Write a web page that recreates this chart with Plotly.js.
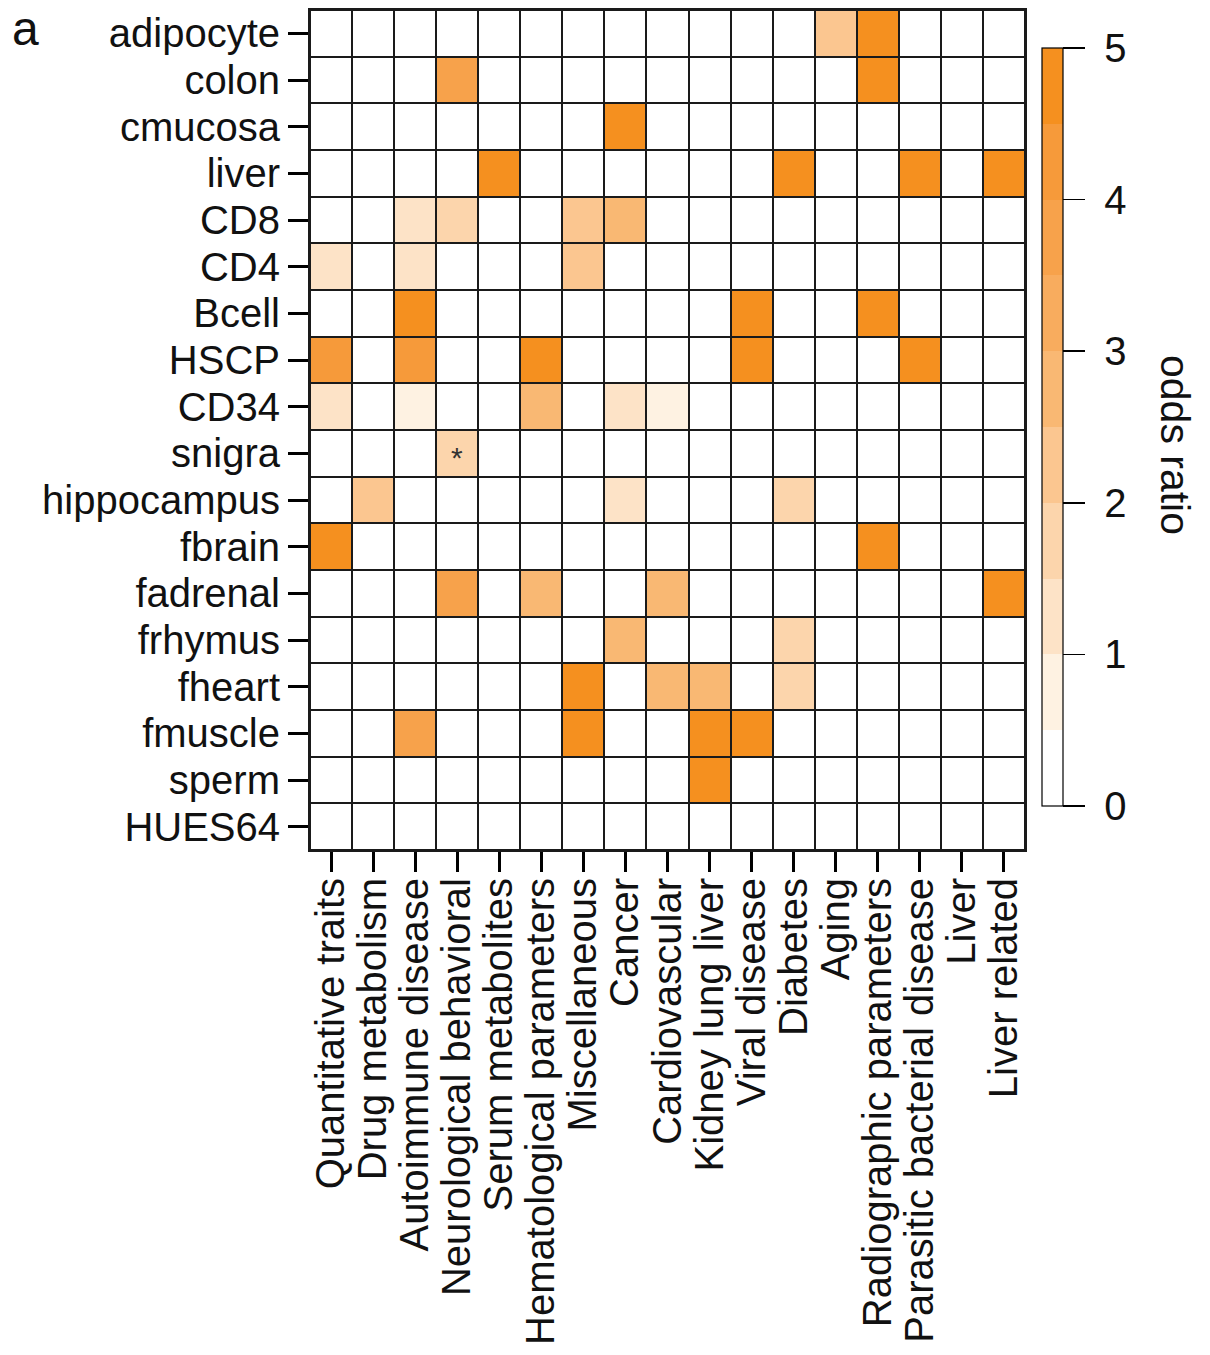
<!DOCTYPE html>
<html>
<head>
<meta charset="utf-8">
<script src="https://cdn.plot.ly/plotly-3.0.1.min.js"></script>
<style>
  html, body { margin: 0; padding: 0; background: #ffffff; }
  #chart { width: 1210px; height: 1355px; }
</style>
</head>
<body>
<div id="chart"></div>
<script>
// Trait categories (columns)
const traits = [
  "Quantitative traits", "Drug metabolism", "Autoimmune disease",
  "Neurological behavioral", "Serum metabolites", "Hematological parameters",
  "Miscellaneous", "Cancer", "Cardiovascular", "Kidney lung liver",
  "Viral disease", "Diabetes", "Aging", "Radiographic parameters",
  "Parasitic bacterial disease", "Liver", "Liver related"
];

// Tissues / cell types (rows, top to bottom)
const tissues = [
  "adipocyte", "colon", "cmucosa", "liver", "CD8", "CD4", "Bcell", "HSCP",
  "CD34", "snigra", "hippocampus", "fbrain", "fadrenal", "frhymus",
  "fheart", "fmuscle", "sperm", "HUES64"
];

// Odds ratio per tissue, in the order of `traits`
const adipocyte   = [0, 0, 0, 0, 0, 0, 0, 0, 0, 0, 0, 0, 2.3, 5, 0, 0, 0];
const colon       = [0, 0, 0, 3.7, 0, 0, 0, 0, 0, 0, 0, 0, 0, 5, 0, 0, 0];
const cmucosa     = [0, 0, 0, 0, 0, 0, 0, 5, 0, 0, 0, 0, 0, 0, 0, 0, 0];
const liver       = [0, 0, 0, 0, 5, 0, 0, 0, 0, 0, 0, 5, 0, 0, 5, 0, 5];
const CD8         = [0, 0, 1.2, 1.7, 0, 0, 2.3, 2.7, 0, 0, 0, 0, 0, 0, 0, 0, 0];
const CD4         = [1.2, 0, 1.2, 0, 0, 0, 2.3, 0, 0, 0, 0, 0, 0, 0, 0, 0, 0];
const Bcell       = [0, 0, 5, 0, 0, 0, 0, 0, 0, 0, 5, 0, 0, 5, 0, 0, 0];
const HSCP        = [4.2, 0, 4.2, 0, 0, 5, 0, 0, 0, 0, 5, 0, 0, 0, 5, 0, 0];
const CD34        = [1.2, 0, 0.7, 0, 0, 2.7, 0, 1.2, 0.7, 0, 0, 0, 0, 0, 0, 0, 0];
const snigra      = [0, 0, 0, 1.7, 0, 0, 0, 0, 0, 0, 0, 0, 0, 0, 0, 0, 0];
const hippocampus = [0, 2.3, 0, 0, 0, 0, 0, 1.2, 0, 0, 0, 1.7, 0, 0, 0, 0, 0];
const fbrain      = [5, 0, 0, 0, 0, 0, 0, 0, 0, 0, 0, 0, 0, 5, 0, 0, 0];
const fadrenal    = [0, 0, 0, 3.7, 0, 2.7, 0, 0, 2.7, 0, 0, 0, 0, 0, 0, 0, 5];
const frhymus     = [0, 0, 0, 0, 0, 0, 0, 2.7, 0, 0, 0, 1.7, 0, 0, 0, 0, 0];
const fheart      = [0, 0, 0, 0, 0, 0, 5, 0, 2.7, 2.7, 0, 1.7, 0, 0, 0, 0, 0];
const fmuscle     = [0, 0, 3.7, 0, 0, 0, 5, 0, 0, 5, 5, 0, 0, 0, 0, 0, 0];
const sperm       = [0, 0, 0, 0, 0, 0, 0, 0, 0, 5, 0, 0, 0, 0, 0, 0, 0];
const HUES64      = [0, 0, 0, 0, 0, 0, 0, 0, 0, 0, 0, 0, 0, 0, 0, 0, 0];

// Significance marker
const starTissue = "snigra";
const starTrait = "Neurological behavioral";

// Colorbar ticks
const cbTicks = [0, 1, 2, 3, 4, 5];

// Stepped colour palette (10 bins of 0.5 across 0..5)
const binColors = [
  "#FFFFFF", "#FEF2E2", "#FDE3C7", "#FCD5AC", "#FBC690",
  "#F9B873", "#F8AC5E", "#F7A24B", "#F69A3A", "#F5901F"
];

const zRows = [adipocyte, colon, cmucosa, liver, CD8, CD4, Bcell, HSCP, CD34,
  snigra, hippocampus, fbrain, fadrenal, frhymus, fheart, fmuscle, sperm, HUES64];

const colorscale = [];
binColors.forEach((c, i) => {
  colorscale.push([i / binColors.length, c]);
  colorscale.push([(i + 1) / binColors.length, c]);
});

const FONT = "Liberation Sans, Arial, sans-serif";
const NB = "\u00a0";

const trace = {
  type: "heatmap",
  x: traits,
  y: tissues,
  z: zRows,
  zmin: 0,
  zmax: 5,
  colorscale: colorscale,
  xgap: 2,
  ygap: 2,
  hoverinfo: "skip",
  colorbar: {
    x: 1.0238,
    xanchor: "left",
    xpad: 0,
    y: 0.5036,
    yanchor: "middle",
    ypad: 0,
    len: 758,
    lenmode: "pixels",
    thickness: 21,
    thicknessmode: "pixels",
    outlinewidth: 1.2,
    outlinecolor: "#000000",
    tickmode: "array",
    tickvals: cbTicks,
    ticktext: cbTicks.map(v => NB + String(v)),
    ticks: "outside",
    ticklen: 22,
    tickwidth: 1.5,
    tickcolor: "#000000",
    tickfont: { family: FONT, size: 40, color: "#111111" }
  }
};

const layout = {
  width: 1210,
  height: 1355,
  margin: { l: 310, r: 185, t: 10, b: 505, pad: 0 },
  paper_bgcolor: "#ffffff",
  plot_bgcolor: "#1a1a1a",
  font: { family: FONT, color: "#111111" },
  xaxis: {
    type: "category",
    categoryorder: "array",
    categoryarray: traits,
    tickmode: "array",
    tickvals: traits,
    ticktext: traits,
    tickangle: -90,
    ticks: "outside",
    ticklen: 20,
    tickwidth: 3,
    tickcolor: "#000000",
    ticklabelstandoff: -10,
    tickfont: { family: FONT, size: 40, color: "#111111" },
    showline: true,
    linecolor: "#1a1a1a",
    linewidth: 2,
    mirror: true,
    showgrid: false,
    zeroline: false,
    fixedrange: true
  },
  yaxis: {
    type: "category",
    categoryorder: "array",
    categoryarray: tissues,
    tickmode: "array",
    tickvals: tissues,
    ticktext: tissues,
    autorange: "reversed",
    ticks: "outside",
    ticklen: 20,
    tickwidth: 3,
    tickcolor: "#000000",
    tickfont: { family: FONT, size: 40, color: "#111111" },
    showline: true,
    linecolor: "#1a1a1a",
    linewidth: 2,
    mirror: true,
    showgrid: false,
    zeroline: false,
    fixedrange: true
  },
  annotations: [
    {
      x: starTrait, y: starTissue, xref: "x", yref: "y",
      text: "*", showarrow: false, yshift: -4,
      font: { family: FONT, size: 30, color: "#333333" }
    },
    {
      x: 1.21, y: 0.482, xref: "paper", yref: "paper",
      text: "odds ratio", textangle: 90, showarrow: false,
      xanchor: "center", yanchor: "middle",
      font: { family: FONT, size: 41, color: "#111111" }
    },
    {
      x: -0.42, y: 1.012, xref: "paper", yref: "paper",
      text: "a", showarrow: false, xanchor: "left", yanchor: "top",
      font: { family: FONT, size: 48, color: "#111111" }
    }
  ],
  showlegend: false
};

Plotly.newPlot("chart", [trace], layout, { staticPlot: true, displayModeBar: false });
</script>
</body>
</html>
